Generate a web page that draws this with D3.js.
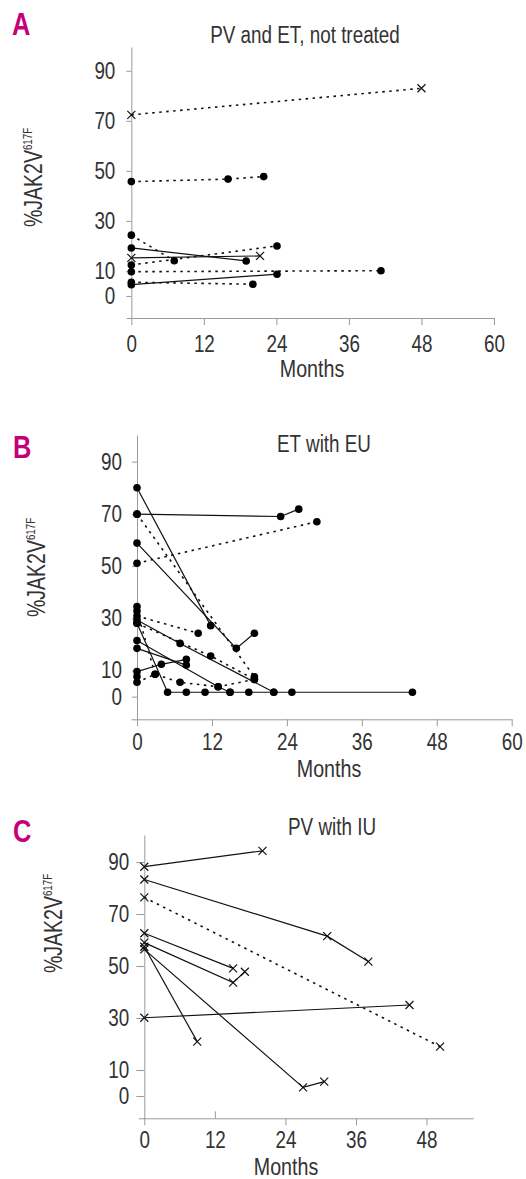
<!DOCTYPE html>
<html>
<head>
<meta charset="utf-8">
<script src="https://cdn.jsdelivr.net/npm/d3@7"></script>
<style>
    body { margin: 0; background: #fff; }
    text { font-family: "Liberation Sans", Arial, sans-serif; fill: #333; }
</style>
</head>
<body>
<div id="my_dataviz"></div>
<script>

// ticks
const monthTicksAB = [0, 12, 24, 36, 48, 60];
const monthTicksC = [0, 12, 24, 36, 48];
const percentTicks = [0, 10, 30, 50, 70, 90];

// A: PV and ET, not treated   ([month, %JAK2V617F])
const aDottedCross = [
    [[0, 72.4], [48, 83]]
];
const aSolidCross = [
    [[0, 15.2], [21.3, 16]]
];
const aDottedCircle = [
    [[0, 45.7], [16, 46.7], [21.9, 47.7]],
    [[0, 24.3], [7.1, 14.1]],
    [[0, 12.4], [24.1, 20]],
    [[0, 9.7], [41.3, 10.1]],
    [[0, 5.5], [20.1, 4.7]]
];
const aSolidCircle = [
    [[0, 19.2], [19, 14]],
    [[0, 4.5], [24.1, 8.7]]
];

// B: ET with EU
const bSolidCircle = [
    [[0, 69.9], [23, 69], [25.9, 71.8]],
    [[0, 80], [11.8, 27.2]],
    [[0, 58.8], [15.9, 18.5], [18.8, 24.3]],
    [[0, 29.4], [6.9, 20.4], [21.9, 1.7]],
    [[0, 28.1], [4.9, 1.7], [7.9, 1.7], [10.9, 1.7], [14.9, 1.7], [17.9, 1.7], [21.9, 1.7], [24.8, 1.7], [44.1, 1.7]],
    [[0, 21.5], [13, 3.8], [14.9, 1.7]],
    [[0, 18.5], [7.9, 12.1]],
    [[0, 9.6], [3.9, 12.4], [7.9, 14.3]],
    [[0, 7.7]],
    [[0, 34.5]]
];
const bDottedCircle = [
    [[0, 51.1], [28.8, 67]],
    [[0, 69.9], [18.8, 7.6]],
    [[0, 30.9], [9.8, 24.3]],
    [[0, 28.1], [11.8, 15.6], [18.8, 6.6]],
    [[0, 32.8], [2.9, 8.6]],
    [[0, 5.5], [2.9, 8.6], [6.9, 5.5], [13, 3.8], [18.8, 6.6]]
];

// C: PV with IU
const cSolidCross = [
    [[0, 88.2], [20.1, 94.3]],
    [[0, 83.3], [31.1, 61.5], [38.1, 51.7]],
    [[0, 62.6], [15.1, 49.1]],
    [[0, 59], [15.1, 43.6], [17.1, 47.8]],
    [[0, 57.4], [9, 20.9]],
    [[0, 56.4], [27, 3.3], [30.6, 5.5]],
    [[0, 30.1], [45.1, 35]]
];
const cDottedCross = [
    [[0, 76.4], [50.3, 19]]
];


const panels = [
    {
        letter: "A", title: "PV and ET, not treated",
        xDomain: [-0.85, 60], xRange: [126.2, 494], xTicks: monthTicksAB, xTickPad: 11,
        yDomain: [-8.8, 99.5], yRange: [318, 47], yTickSize: 5, yTickPad: 11,
        letterPos: [12, 35], titlePos: [305, 43], monthsPos: [312, 377], yLabelPos: [42, 227],
        series: [
            {data: aDottedCircle, dotted: true, marker: "circle"},
            {data: aSolidCircle, dotted: false, marker: "circle"},
            {data: aDottedCross, dotted: true, marker: "cross"},
            {data: aSolidCross, dotted: false, marker: "cross"}
        ]
    },
    {
        letter: "B", title: "ET with EU",
        xDomain: [-0.96, 60], xRange: [131, 511.7], xTicks: monthTicksAB, xTickPad: 7.5,
        yDomain: [-8.66, 100.2], yRange: [719.3, 435], yTickSize: 5, yTickPad: 10,
        letterPos: [13, 458], titlePos: [324, 452], monthsPos: [329, 777], yLabelPos: [45, 617],
        series: [
            {data: bDottedCircle, dotted: true, marker: "circle"},
            {data: bSolidCircle, dotted: false, marker: "circle"}
        ]
    },
    {
        letter: "C", title: "PV with IU",
        xDomain: [-1.02, 55.95], xRange: [138.3, 473.3], xTicks: monthTicksC, xTickPad: 6.5, upTicks: [12],
        yDomain: [-8.58, 100.4], yRange: [1118.3, 835], yTickSize: 8, yTickPad: 7,
        letterPos: [13, 842], titlePos: [332, 835], monthsPos: [286, 1175], yLabelPos: [62, 973],
        series: [
            {data: cDottedCross, dotted: true, marker: "cross"},
            {data: cSolidCross, dotted: false, marker: "cross"}
        ]
    }
];

// the figure uses a condensed face; squeeze Liberation Sans sideways
const squeeze = 0.82;

var svg = d3.select("#my_dataviz")
    .append("svg")
    .attr("width", 526)
    .attr("height", 1179);


function addText(g, pos, str, size) {
    return g.append("text")
        .attr("transform", `translate(${pos[0]},${pos[1]}) scale(${squeeze},1)`)
        .attr("font-size", size)
        .text(str);
}

function drawPanel(p) {
    const x = d3.scaleLinear().domain(p.xDomain).range(p.xRange);
    const y = d3.scaleLinear().domain(p.yDomain).range(p.yRange);
    const g = svg.append("g");

    // x axis
    const gx = g.append("g")
        .attr("transform", `translate(0,${p.yRange[0]})`)
        .call(d3.axisBottom(x).tickValues(p.xTicks).tickSize(7).tickSizeOuter(0).tickPadding(p.xTickPad));
    if (p.upTicks) {
        gx.selectAll(".tick line").attr("y2", function(d) { return p.upTicks.includes(d) ? -7 : 7; });
    }
    gx.selectAll(".tick text").attr("transform", `scale(${squeeze},1)`);

    // y axis sits at month 0
    const gy = g.append("g")
        .attr("transform", `translate(${x(0)},0)`)
        .call(d3.axisLeft(y).tickValues(percentTicks).tickSize(p.yTickSize).tickSizeOuter(0).tickPadding(p.yTickPad));
    gy.selectAll(".tick text")
        .attr("x", -(p.yTickSize + p.yTickPad) / squeeze)
        .attr("transform", `scale(${squeeze},1)`);

    g.selectAll(".domain, .tick line").attr("stroke", "#9a9a9a").attr("stroke-width", 1);
    g.selectAll(".tick text")
        .attr("font-family", null)
        .attr("font-size", 23)
        .attr("fill", "#2e2e2e");

    // labels
    addText(g, p.letterPos, p.letter, 31)
        .attr("font-weight", "bold")
        .style("fill", "#c4007a");

    addText(g, p.titlePos, p.title, 23).attr("text-anchor", "middle");
    addText(g, p.monthsPos, "Months", 24).attr("text-anchor", "middle");

    const yl = g.append("text")
        .attr("transform", `translate(${p.yLabelPos[0]},${p.yLabelPos[1]}) rotate(-90) scale(0.75,1)`)
        .attr("font-size", 26);
    yl.append("tspan").text("%JAK2V");
    yl.append("tspan").attr("dy", -10.5).attr("font-size", 13).text("617F");

    // series
    const line = d3.line()
        .x(function(d) { return x(d[0]); })
        .y(function(d) { return y(d[1]); });

    p.series.forEach(function(s) {
        g.append("g").selectAll("path")
            .data(s.data.filter(function(d) { return d.length > 1; }))
            .join("path")
            .attr("fill", "none")
            .attr("stroke", "#111")
            .attr("stroke-width", s.dotted ? 1.6 : 1.2)
            .attr("stroke-dasharray", s.dotted ? "2.5,4.5" : null)
            .attr("d", line);
    });

    p.series.forEach(function(s) {
        const pts = s.data.flat();
        if (s.marker === "circle") {
            g.append("g").selectAll("circle")
                .data(pts)
                .join("circle")
                .attr("cx", function(d) { return x(d[0]); })
                .attr("cy", function(d) { return y(d[1]); })
                .attr("r", 3.8)
                .attr("fill", "#000");
        } else {
            g.append("g").selectAll("path")
                .data(pts)
                .join("path")
                .attr("transform", function(d) { return `translate(${x(d[0])},${y(d[1])})`; })
                .attr("d", "M-4,-4L4,4M-4,4L4,-4")
                .attr("fill", "none")
                .attr("stroke", "#111")
                .attr("stroke-width", 1.2);
        }
    });
}

panels.forEach(drawPanel);

</script>
</body>
</html>
